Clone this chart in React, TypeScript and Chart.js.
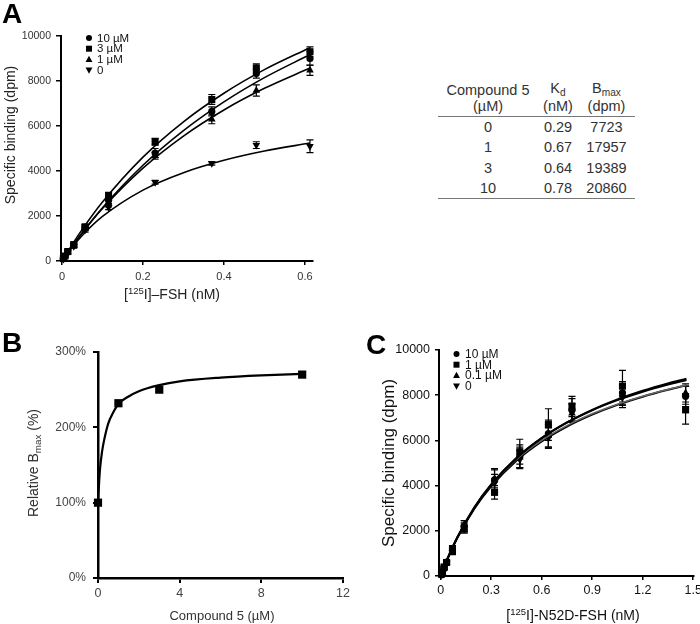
import React, { useEffect, useRef } from 'react';
import { Chart, registerables } from 'chart.js';

Chart.register(...registerables);

const FONT = '"Liberation Sans", Arial, Helvetica, sans-serif';

// ---------------- Panel A ----------------
const aConc = [0.0035, 0.007, 0.014, 0.029, 0.057, 0.115, 0.23, 0.37, 0.48, 0.6125];
const a10uM = [100, 200, 400, 700, 1500, 2700, 4800, 6650, 8330, 9000];
const a3uM = [110, 220, 420, 730, 1520, 2900, 5300, 7180, 8580, 9300];
const a1uM = [100, 200, 380, 680, 1450, 2550, 4680, 6300, 7580, 8480];
const a0uM = [90, 190, 370, 650, 1380, 2380, 3500, 4340, 5150, 5100];
const a10Err = [30, 40, 60, 80, 100, 150, 200, 200, 200, 300];
const a3Err = [30, 40, 60, 80, 100, 150, 150, 220, 180, 220];
const a1Err = [30, 40, 60, 80, 100, 150, 150, 200, 250, 230];
const a0Err = [30, 40, 60, 80, 100, 100, 80, 80, 150, 280];
const aFitConc = [0, 0.025, 0.05, 0.1, 0.2, 0.3, 0.4, 0.5, 0.6125];
const aFit10 = [0, 648, 1257, 2370, 4257, 5794, 7071, 8148, 9175];
const aFit3 = [0, 729, 1405, 2620, 4616, 6188, 7457, 8504, 9481];
const aFit1 = [0, 646, 1247, 2332, 4128, 5554, 6713, 7674, 8576];
const aFit0 = [0, 613, 1136, 1980, 3152, 3927, 4477, 4888, 5241];
const aLabels = ['10 µM', '3 µM', '1 µM', '0'];
const aXTicks = [0, 0.2, 0.4, 0.6];
const aYTicks = [0, 2000, 4000, 6000, 8000, 10000];

// Table
const tableConc = ['0', '1', '3', '10'];
const tableKd = ['0.29', '0.67', '0.64', '0.78'];
const tableBmax = ['7723', '17957', '19389', '20860'];

// ---------------- Panel B ----------------
const bConc = [0, 1, 3, 10];
const bRelBmax = [100, 232, 250, 270];
const bFitConc = [0, 0.05, 0.1, 0.2, 0.3, 0.5, 0.75, 1, 1.5, 2, 3, 4, 6, 8, 10];
const bFitRel = [100, 125, 145, 168, 183, 205, 220, 231, 241, 248, 256, 261, 266, 269, 271];
const bXTicks = [0, 4, 8, 12];
const bYTicks = [0, 100, 200, 300];

// ---------------- Panel C ----------------
const cConc = [0.005, 0.01, 0.02, 0.035, 0.07, 0.14, 0.32, 0.47, 0.64, 0.78, 1.08, 1.455];
const c10uM = [60, 150, 330, 600, 1150, 2200, 4250, 5300, 6300, 7350, 8100, 7950];
const c1uM = [80, 180, 400, 600, 1100, 2100, 3700, 5500, 6700, 7500, 8400, 7350];
const c01uM = [70, 160, 350, 620, 1200, 2250, 4300, 5250, 6200, 7200, 8000, 8100];
const c0uM = [60, 140, 340, 580, 1150, 2150, 4100, 5150, 6100, 7250, 7900, 8000];
const c10Err = [30, 40, 60, 80, 150, 250, 500, 500, 600, 500, 500, 450];
const c1Err = [30, 40, 60, 80, 150, 200, 300, 550, 700, 450, 700, 630];
const c01Err = [30, 40, 60, 80, 150, 200, 400, 450, 500, 400, 450, 400];
const c0Err = [30, 40, 60, 80, 150, 200, 400, 400, 450, 400, 450, 400];
const cFitConc = [0, 0.025, 0.05, 0.1, 0.2, 0.3, 0.45, 0.6, 0.75, 0.9, 1.05, 1.2, 1.35, 1.46];
const cFit10 = [0, 477, 919, 1712, 3012, 4032, 5208, 6098, 6793, 7353, 7813, 8197, 8523, 8732];
const cFit1 = [0, 484, 932, 1732, 3037, 4055, 5222, 6099, 6783, 7331, 7780, 8155, 8472, 8675];
const cFit01 = [0, 488, 936, 1735, 3026, 4023, 5155, 6000, 6654, 7176, 7601, 7955, 8254, 8445];
const cFit0 = [0, 476, 915, 1700, 2975, 3967, 5100, 5950, 6611, 7140, 7573, 7933, 8238, 8434];
const cLabels = ['10 µM', '1 µM', '0.1 µM', '0'];
const cXTicks = [0, 0.3, 0.6, 0.9, 1.2, 1.5];
const cYTicks = [0, 2000, 4000, 6000, 8000, 10000];

// ---------------- helpers ----------------
const pts = (xs: number[], ys: number[]) => xs.map((x, i) => ({ x, y: ys[i] }));

function drawMarker(ctx: CanvasRenderingContext2D, shape: string, x: number, y: number, s: number) {
  ctx.beginPath();
  if (shape === 'circle') {
    ctx.arc(x, y, s, 0, Math.PI * 2);
  } else if (shape === 'rect') {
    ctx.rect(x - s, y - s, 2 * s, 2 * s);
  } else if (shape === 'triangle') {
    ctx.moveTo(x, y - s * 1.2);
    ctx.lineTo(x + s * 1.15, y + s * 0.9);
    ctx.lineTo(x - s * 1.15, y + s * 0.9);
    ctx.closePath();
  } else {
    ctx.moveTo(x, y + s * 1.2);
    ctx.lineTo(x + s * 1.15, y - s * 0.9);
    ctx.lineTo(x - s * 1.15, y - s * 0.9);
    ctx.closePath();
  }
  ctx.fill();
}

const errorBarPlugin = {
  id: 'errorBars',
  beforeDatasetsDraw(chart: any) {
    const ctx = chart.ctx;
    const xs = chart.scales.x;
    const ys = chart.scales.y;
    chart.data.datasets.forEach((ds: any) => {
      if (!ds.errorBars) return;
      ctx.save();
      ctx.strokeStyle = '#000';
      ctx.lineWidth = 1.2;
      ds.data.forEach((p: any, j: number) => {
        const e = ds.errorBars[j];
        if (!e) return;
        const x = xs.getPixelForValue(p.x);
        const y1 = ys.getPixelForValue(p.y - e);
        const y2 = ys.getPixelForValue(p.y + e);
        const cap = 3.5;
        ctx.beginPath();
        ctx.moveTo(x, y1);
        ctx.lineTo(x, y2);
        ctx.moveTo(x - cap, y1);
        ctx.lineTo(x + cap, y1);
        ctx.moveTo(x - cap, y2);
        ctx.lineTo(x + cap, y2);
        ctx.stroke();
      });
      ctx.restore();
    });
  },
};

const markerLegendPlugin = {
  id: 'markerLegend',
  afterDraw(chart: any, _args: any, opts: any) {
    if (!opts || !opts.show) return;
    const ctx = chart.ctx;
    ctx.save();
    ctx.font = `${opts.size}px ${FONT}`;
    ctx.textBaseline = 'middle';
    ctx.textAlign = 'left';
    let i = 0;
    chart.data.datasets.forEach((ds: any) => {
      if (!ds.legendShape) return;
      const y = opts.y + i * opts.rowH;
      ctx.fillStyle = '#000';
      drawMarker(ctx, ds.legendShape, opts.x, y, opts.r);
      ctx.fillStyle = opts.color;
      ctx.fillText(ds.label, opts.textX, y + 0.5);
      i++;
    });
    ctx.restore();
  },
};

function linAxis(o: any) {
  return {
    type: 'linear',
    min: o.min,
    max: o.max,
    afterBuildTicks: (s: any) => {
      s.ticks = o.ticks.map((v: number) => ({ value: v }));
    },
    afterFit: (s: any) => {
      if (o.isY) s.width = o.fit;
      else s.height = o.fit;
    },
    border: { display: true, color: '#000', width: o.bw },
    grid: {
      display: true,
      drawOnChartArea: false,
      drawTicks: true,
      tickLength: o.tickLen,
      color: '#000',
      lineWidth: o.tw,
    },
    ticks: {
      font: { size: o.size, family: FONT },
      color: o.color,
      padding: o.pad,
      maxRotation: 0,
      autoSkip: false,
      callback: o.fmt,
    },
  };
}

function series(label: string, xs: number[], ys: number[], errs: number[] | null, shape: string, r: number) {
  return {
    label,
    data: pts(xs, ys),
    errorBars: errs,
    legendShape: shape,
    showLine: false,
    pointStyle: shape === 'down' ? 'triangle' : shape,
    pointRotation: shape === 'down' ? 180 : 0,
    pointRadius: r,
    pointBackgroundColor: '#000',
    pointBorderColor: '#000',
    pointBorderWidth: 0,
    clip: false,
  };
}

function curve(xs: number[], ys: number[], color: string, width: number) {
  return {
    label: '',
    data: pts(xs, ys),
    showLine: true,
    pointRadius: 0,
    borderColor: color,
    borderWidth: width,
    cubicInterpolationMode: 'monotone',
    fill: false,
  };
}

function baseOptions(padding: any, scales: any, legend: any) {
  return {
    responsive: false,
    animation: false,
    events: [],
    layout: { padding },
    scales,
    plugins: {
      legend: { display: false },
      tooltip: { enabled: false },
      markerLegend: legend,
    },
  };
}

const fmtDec = (v: number) => (v === 0 ? '0' : v.toFixed(1));
const fmtInt = (v: number) => String(v);

function buildA(): any {
  return {
    type: 'line',
    data: {
      datasets: [
        curve(aFitConc, aFit10, '#000', 1.6),
        curve(aFitConc, aFit3, '#000', 1.6),
        curve(aFitConc, aFit1, '#000', 1.6),
        curve(aFitConc, aFit0, '#000', 1.6),
        series(aLabels[0], aConc, a10uM, a10Err, 'circle', 3.6),
        series(aLabels[1], aConc, a3uM, a3Err, 'rect', 5),
        series(aLabels[2], aConc, a1uM, a1Err, 'triangle', 4.4),
        series(aLabels[3], aConc, a0uM, a0Err, 'down', 4.4),
      ],
    },
    options: baseOptions(
      { left: 16, top: 36, right: 27, bottom: 19 },
      {
        x: linAxis({ min: -0.0025, max: 0.62, ticks: aXTicks, fmt: fmtDec, fit: 30, bw: 2, tw: 1.5, tickLen: 4, pad: 5, size: 11, color: '#333' }),
        y: linAxis({ isY: true, min: 0, max: 10000, ticks: aYTicks, fmt: fmtInt, fit: 45, bw: 2, tw: 1.5, tickLen: 5, pad: 5, size: 10.5, color: '#333' }),
      },
      { show: true, x: 89, textX: 97, y: 38, rowH: 10.7, r: 3, size: 11.5, color: '#111' }
    ),
    plugins: [errorBarPlugin, markerLegendPlugin],
  };
}

function buildB(): any {
  return {
    type: 'line',
    data: {
      datasets: [
        curve(bFitConc, bFitRel, '#000', 2.2),
        { ...series('Relative Bmax', bConc, bRelBmax, null, 'rect', 5.8), legendShape: undefined },
      ],
    },
    options: baseOptions(
      { left: 53, top: 32, right: 17, bottom: 18 },
      {
        x: linAxis({ min: 0, max: 12, ticks: bXTicks, fmt: fmtInt, fit: 28, bw: 2.5, tw: 2, tickLen: 5, pad: 3, size: 12.5, color: '#444' }),
        y: linAxis({ isY: true, min: 0, max: 300, ticks: bYTicks, fmt: (v: number) => v + '%', fit: 45, bw: 2.5, tw: 2, tickLen: 5, pad: 7, size: 12, color: '#444' }),
      },
      { show: false }
    ),
    plugins: [errorBarPlugin, markerLegendPlugin],
  };
}

function buildC(): any {
  return {
    type: 'line',
    data: {
      datasets: [
        curve(cFitConc, cFit10, '#000', 2),
        curve(cFitConc, cFit1, '#000', 2),
        curve(cFitConc, cFit01, '#666', 1.6),
        curve(cFitConc, cFit0, '#000', 2),
        series(cLabels[0], cConc, c10uM, c10Err, 'circle', 3.6),
        series(cLabels[1], cConc, c1uM, c1Err, 'rect', 5),
        series(cLabels[2], cConc, c01uM, c01Err, 'triangle', 4.4),
        series(cLabels[3], cConc, c0uM, c0Err, 'down', 4.4),
      ],
    },
    options: baseOptions(
      { left: 39, top: 30, right: 16, bottom: 20 },
      {
        x: linAxis({ min: -0.01, max: 1.505, ticks: cXTicks, fmt: fmtDec, fit: 28, bw: 2, tw: 1.5, tickLen: 4, pad: 3, size: 12.5, color: '#111' }),
        y: linAxis({ isY: true, min: 0, max: 10000, ticks: cYTicks, fmt: fmtInt, fit: 50, bw: 2, tw: 1.5, tickLen: 4, pad: 5, size: 12.5, color: '#111' }),
      },
      { show: true, x: 106.5, textX: 115, y: 34, rowH: 10.7, r: 3, size: 12, color: '#111' }
    ),
    plugins: [errorBarPlugin, markerLegendPlugin],
  };
}

function ChartBox(props: { left: number; top: number; width: number; height: number; build: () => any }) {
  const ref = useRef<HTMLCanvasElement | null>(null);
  useEffect(() => {
    if (!ref.current) return;
    const chart = new Chart(ref.current, props.build());
    return () => chart.destroy();
  }, []);
  return (
    <div style={{ position: 'absolute', left: props.left, top: props.top, width: props.width, height: props.height }}>
      <canvas ref={ref} width={props.width} height={props.height} style={{ width: props.width, height: props.height, display: 'block' }} />
    </div>
  );
}

function Text(props: { cx: number; cy: number; size: number; rotate?: boolean; color?: string; children: any }) {
  return (
    <div
      style={{
        position: 'absolute',
        left: props.cx,
        top: props.cy,
        transform: `translate(-50%, -50%)${props.rotate ? ' rotate(-90deg)' : ''}`,
        whiteSpace: 'nowrap',
        fontSize: props.size,
        lineHeight: 1,
        color: props.color || '#222',
        fontFamily: FONT,
      }}
    >
      {props.children}
    </div>
  );
}

const supStyle: any = { fontSize: '0.68em', position: 'relative', top: '-0.5em', verticalAlign: 'baseline' };
const subStyle: any = { fontSize: '0.7em', position: 'relative', top: '0.3em', verticalAlign: 'baseline' };

function PanelLabel(props: { left: number; top: number; children: any }) {
  return (
    <div style={{ position: 'absolute', left: props.left, top: props.top, fontSize: 28, lineHeight: '28px', fontWeight: 'bold', fontFamily: FONT, color: '#000' }}>
      {props.children}
    </div>
  );
}

export default function App() {
  const th: any = { fontWeight: 'normal', lineHeight: '16px', padding: '0 0 2px 0', borderBottom: '1.5px solid #777', textAlign: 'center', verticalAlign: 'bottom' };
  const td: any = { padding: 0, height: '20.3px', lineHeight: '20.3px', textAlign: 'center' };
  return (
    <div style={{ position: 'fixed', left: 0, top: 0, width: 700, height: 624, background: '#fff', overflow: 'hidden', fontFamily: FONT }}>
      <ChartBox left={0} top={0} width={340} height={310} build={buildA} />
      <ChartBox left={0} top={320} width={360} height={304} build={buildB} />
      <ChartBox left={350} top={320} width={360} height={304} build={buildC} />

      <PanelLabel left={2} top={0}>A</PanelLabel>
      <PanelLabel left={2} top={329}>B</PanelLabel>
      <PanelLabel left={366} top={331}>C</PanelLabel>

      <Text cx={10} cy={135} size={14} rotate color="#222">Specific binding (dpm)</Text>
      <Text cx={172} cy={294} size={14} color="#222">
        [<span style={supStyle}>125</span>I]–FSH (nM)
      </Text>

      <Text cx={33} cy={463} size={14} rotate color="#333">
        Relative B<span style={subStyle}>max</span> (%)
      </Text>
      <Text cx={222} cy={615} size={13} color="#333">Compound 5 (µM)</Text>

      <Text cx={388} cy={463} size={17} rotate color="#111">Specific binding (dpm)</Text>
      <Text cx={573} cy={615} size={14} color="#111">
        [<span style={supStyle}>125</span>I]-N52D-FSH (nM)
      </Text>

      <table
        style={{
          position: 'absolute',
          left: 438,
          top: 80,
          width: 197,
          borderCollapse: 'collapse',
          tableLayout: 'fixed',
          fontSize: 14.5,
          color: '#333',
          fontFamily: FONT,
        }}
      >
        <colgroup>
          <col style={{ width: 100 }} />
          <col style={{ width: 40 }} />
          <col style={{ width: 57 }} />
        </colgroup>
        <thead>
          <tr>
            <th style={th}>Compound 5<br />(µM)</th>
            <th style={th}>K<span style={subStyle}>d</span><br />(nM)</th>
            <th style={th}>B<span style={subStyle}>max</span><br />(dpm)</th>
          </tr>
        </thead>
        <tbody>
          {tableConc.map((c, i) => {
            const last = i === tableConc.length - 1;
            const s = last ? { ...td, borderBottom: '1.5px solid #777' } : td;
            return (
              <tr key={c}>
                <td style={s}>{c}</td>
                <td style={s}>{tableKd[i]}</td>
                <td style={s}>{tableBmax[i]}</td>
              </tr>
            );
          })}
        </tbody>
      </table>
    </div>
  );
}
